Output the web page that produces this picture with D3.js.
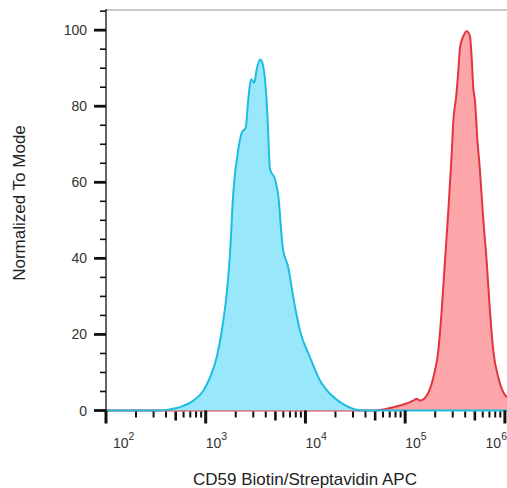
<!DOCTYPE html>
<html>
<head>
<meta charset="utf-8">
<script src="https://cdn.jsdelivr.net/npm/d3@7"></script>
<style>
  html, body { margin: 0; padding: 0; background: #fff; }
  svg { display: block; font-family: "Liberation Sans", Arial, sans-serif; }
</style>
</head>
<body>
<svg id="chart" width="507" height="488"></svg>
<script>
// histogram traces: intensity (APC) vs % of mode
const blueX = [100, 348, 438, 552, 750, 946, 1104, 1288, 1500, 1623, 1751, 1891, 2122,
  2295, 2517, 2673, 2845, 3071, 3246, 3500, 3692, 3928, 4146, 4413, 4951, 5343, 5913,
  6730, 7553, 8814, 11100, 13990, 17620, 22220, 30200, 37760, 1050000];
const blueY = [0, 0, 0.3, 0.9, 2.6, 5.2, 8.7, 14.0, 23.6, 30.7, 41.2, 57.3, 68.7,
  73.0, 74.4, 81.8, 87.1, 86.2, 89.7, 92.3, 91.4, 87.1, 78.3, 63.4, 60.8, 56.4, 42.9,
  37.6, 29.7, 21.0, 14.0, 7.9, 4.4, 2.2, 0.4, 0, 0];

const redX = [100, 47860, 65300, 88750, 120700, 130500, 140900, 164400, 191500, 214900,
  232300, 250800, 270800, 292900, 304000, 323600, 341100, 354800, 382900, 414000,
  446700, 464500, 482100, 501200, 528400, 562300, 606700, 656100, 708000, 765500,
  859600, 963900, 1050000];
const redY = [0, 0, 0.45, 1.3, 2.6, 3.1, 2.6, 3.9, 8.7, 15.7,
  26.2, 39.4, 52.5, 67.5, 76.1, 82.2, 89.2, 95.4, 98.4, 99.7,
  98.4, 92.7, 84.8, 81.4, 71.7, 63.0, 50.4, 39.4, 26.2, 15.7,
  8.7, 4.8, 3.5];

const yMajor = [0, 20, 40, 60, 80, 100];
const yMinor = [5, 10, 15, 25, 30, 35, 45, 50, 55, 65, 70, 75, 85, 90, 95, 105];
const xDecades = [2, 3, 4, 5, 6];
const xTitle = "CD59 Biotin/Streptavidin APC";
const yTitle = "Normalized To Mode";

const W = 507, H = 488;
const L = 106, R = 507, T = 10, B = 410.5;
const svg = d3.select("#chart");

const x = d3.scaleLog().domain([100, 1050000]).range([L, R]);
const y = d3.scaleLinear().domain([0, 105.3]).range([B, T]);

// top frame line
svg.append("line").attr("x1", L).attr("x2", R).attr("y1", T).attr("y2", T)
  .attr("stroke", "#b8b8b8").attr("stroke-width", 1.5);

// histograms
function hist(xs, ys, fill, stroke) {
  const pts = xs.map((v, i) => [v, ys[i]]);
  const area = d3.area().x((d) => x(d[0])).y0(B).y1((d) => y(d[1]))
    .curve(d3.curveMonotoneX);
  const line = d3.line().x((d) => x(d[0])).y((d) => y(d[1]))
    .curve(d3.curveMonotoneX);
  svg.append("path").datum(pts).attr("d", area).attr("fill", fill);
  svg.append("path").datum(pts).attr("d", line).attr("fill", "none")
    .attr("stroke", stroke).attr("stroke-width", 2).attr("stroke-linejoin", "round");
}
hist(redX, redY, "#fca6aa", "#e1363f");
hist(blueX, blueY, "#99e7fa", "#1fbde0");

// y axis
svg.append("line").attr("x1", L).attr("x2", L).attr("y1", T - 1).attr("y2", B + 1)
  .attr("stroke", "#111").attr("stroke-width", 1.3);
svg.append("g").selectAll("line").data(yMinor).join("line")
  .attr("x1", L - 6).attr("x2", L).attr("y1", (d) => y(d)).attr("y2", (d) => y(d))
  .attr("stroke", "#111").attr("stroke-width", 1.6);
svg.append("g").selectAll("line").data(yMajor).join("line")
  .attr("x1", L - 12).attr("x2", L).attr("y1", (d) => y(d)).attr("y2", (d) => y(d))
  .attr("stroke", "#111").attr("stroke-width", 2.8);
svg.append("g").selectAll("text").data(yMajor).join("text")
  .attr("x", 87).attr("y", (d) => y(d) + 5).attr("text-anchor", "end")
  .style("font-size", "14px").style("fill", "#333").text((d) => d);

// x axis ticks (log decades with minor ticks)
const xMinor = [];
xDecades.slice(0, -1).forEach((e) => {
  for (let k = 2; k <= 9; k++) xMinor.push({ v: k * Math.pow(10, e), k });
});
svg.append("g").selectAll("line").data(xMinor).join("line")
  .attr("x1", (d) => x(d.v)).attr("x2", (d) => x(d.v))
  .attr("y1", B + 1).attr("y2", (d) => d.k === 5 ? B + 10 : B + 7)
  .attr("stroke", "#111").attr("stroke-width", (d) => d.k === 5 ? 2.6 : 2);
svg.append("g").selectAll("line").data(xDecades).join("line")
  .attr("x1", (d) => x(Math.pow(10, d))).attr("x2", (d) => x(Math.pow(10, d)))
  .attr("y1", B).attr("y2", B + 13)
  .attr("stroke", "#111").attr("stroke-width", 3);

const xl = svg.append("g").selectAll("text").data(xDecades).join("text")
  .attr("y", 448).style("font-size", "14px").style("fill", "#333");
xl.append("tspan").text("10");
xl.append("tspan").attr("dy", -8).style("font-size", "10.5px").text((d) => d);
xl.each(function (d) {
  const w = this.getComputedTextLength();
  const px = Math.min(Math.max(x(Math.pow(10, d)), L + 7), W - w);
  d3.select(this).attr("x", px);
});

// titles
svg.append("text").attr("x", 305).attr("y", 485).attr("text-anchor", "middle")
  .style("font-size", "17px").style("fill", "#222").text(xTitle);
svg.append("text").attr("transform", "translate(25,203) rotate(-90)")
  .attr("text-anchor", "middle").style("font-size", "17px").style("fill", "#222")
  .text(yTitle);
</script>
</body>
</html>
